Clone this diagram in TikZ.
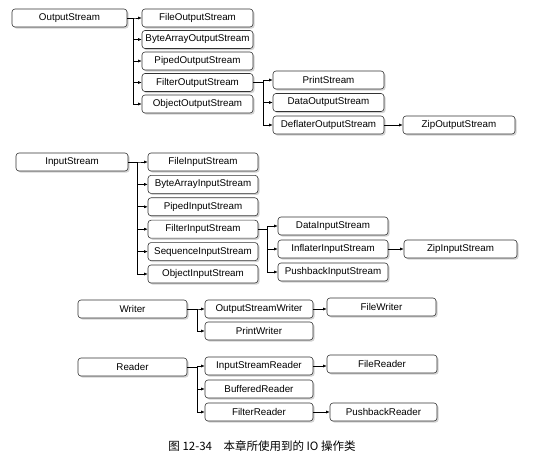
\documentclass[tikz,border=0pt]{standalone}
\usepackage{fontspec}
\setmainfont{Liberation Sans}
\newfontfamily\cjk{Noto Sans CJK SC}
\usetikzlibrary{arrows.meta,shadows}
\tikzset{
  cls/.style={rectangle,rounded corners=3pt,draw=black!80,fill=white,
              line width=0.6pt,minimum width=111pt,minimum height=18pt,
              inner sep=0pt,font=\fontsize{9.8}{12}\selectfont,
              drop shadow={shadow xshift=1.6pt,shadow yshift=-1.6pt,
                           fill=black!35}},
  arr/.style={-{Latex[length=3.5pt,width=3pt]},line width=0.6pt},
}
\begin{document}
\begin{tikzpicture}[x=1pt,y=-1pt]
  \useasboundingbox (0,0) rectangle (547,457);
  % byte output streams
  \node[cls,minimum width=115pt] (os) at (69.5,18) {OutputStream};
  \foreach \i/\nm/\lbl in {
    0/fos/FileOutputStream,
    1/baos/ByteArrayOutputStream,
    2/pos/PipedOutputStream,
    3/fios/FilterOutputStream,
    4/oos/ObjectOutputStream}{
    \node[cls] (\nm) at (197.5,{18+21.5*\i}) {\lbl};
    \draw[arr] (os.east) -- ++(6,0) |- (\nm.west);
  }
  \foreach \i/\nm/\lbl in {
    0/ps/PrintStream,
    1/dos/DataOutputStream,
    2/deos/DeflaterOutputStream}{
    \node[cls] (\nm) at (328.5,{80+22.5*\i}) {\lbl};
    \draw[arr] (fios.east) -- ++(10,0) |- (\nm.west);
  }
  \node[cls,minimum width=112pt] (zos) at (459,125) {ZipOutputStream};
  \draw[arr] (deos) -- (zos);
  % byte input streams
  \node[cls,minimum width=112pt] (is) at (72,162) {InputStream};
  \foreach \i/\nm/\lbl in {
    0/fis/FileInputStream,
    1/bais/ByteArrayInputStream,
    2/pis/PipedInputStream,
    3/fiis/FilterInputStream,
    4/sis/SequenceInputStream,
    5/ois/ObjectInputStream}{
    \node[cls,minimum width=110pt] (\nm) at (203,{162+22.4*\i}) {\lbl};
    \draw[arr] (is.east) -- ++(9,0) |- (\nm.west);
  }
  \foreach \i/\nm/\lbl in {
    0/dis/DataInputStream,
    1/iis/InflaterInputStream,
    2/pbis/PushbackInputStream}{
    \node[cls,minimum width=110pt] (\nm) at (333,{226+23*\i}) {\lbl};
    \draw[arr] (fiis.east) -- ++(9,0) |- (\nm.west);
  }
  \node[cls,minimum width=113pt] (zis) at (460.5,249) {ZipInputStream};
  \draw[arr] (iis) -- (zis);
  % character streams
  \node[cls,minimum width=109pt] (wr) at (132.5,309) {Writer};
  \foreach \i/\nm/\lbl in {
    0/osw/OutputStreamWriter,
    1/pw/PrintWriter}{
    \node[cls,minimum width=108pt] (\nm) at (259,{309+22*\i}) {\lbl};
    \draw[arr] (wr.east) -- ++(10,0) |- (\nm.west);
  }
  \node[cls,minimum width=109pt] (fw) at (381.5,307) {FileWriter};
  \draw[arr] (osw.east) -- (osw.east -| fw.west);
  \node[cls,minimum width=109pt] (rd) at (132.5,367) {Reader};
  \foreach \i/\nm/\lbl in {
    0/isr/InputStreamReader,
    1/br/BufferedReader,
    2/fr/FilterReader}{
    \node[cls,minimum width=108pt] (\nm) at (259,{366+23*\i}) {\lbl};
    \draw[arr] (rd.east) -- ++(10,0) |- (\nm.west);
  }
  \node[cls,minimum width=110pt] (frd) at (382,364) {FileReader};
  \draw[arr] (isr.east) -- (isr.east -| frd.west);
  \node[cls,minimum width=107pt] (pbr) at (383.5,412) {PushbackReader};
  \draw[arr] (fr) -- (pbr);
  % caption
  \node[font=\cjk\fontsize{11.5}{13}\selectfont] (cap) at (262,446)
    {图 12-34\quad 本章所使用到的 IO 操作类};
\end{tikzpicture}
\end{document}
